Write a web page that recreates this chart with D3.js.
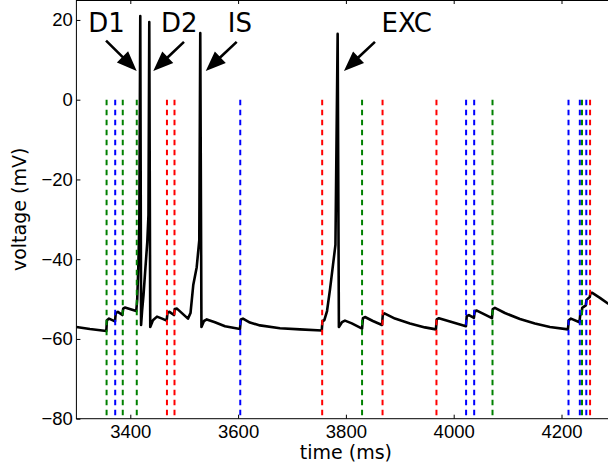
<!DOCTYPE html>
<html>
<head>
<meta charset="utf-8">
<script src="https://cdn.jsdelivr.net/npm/d3@7"></script>
<style>
  body { margin: 0; background: #fff; }
  svg { display: block; font-family: 'DejaVu Sans', sans-serif; }
  .tick text { font-size: 18.5px; fill: #000; }
  .tick line { stroke: #000; stroke-width: 1; }
</style>
</head>
<body>
<div class="voltage-trace"></div>
<script>
// membrane potential (ms, mV)
const timeMs = [
  3300, 3325, 3355.5, 3356.6, 3360.5, 3371.6, 3373, 3377, 3385.3, 3386.8, 3390, 3411,
  3412.8, 3414.8, 3416.7, 3418.5, 3420, 3422, 3424.5, 3427.8, 3431.5, 3433.7, 3435.2, 3437,
  3442, 3449.5, 3459, 3467.5, 3469, 3472.7, 3481, 3482.5, 3486.6, 3507,
  3511.7, 3516.8, 3523.2, 3528, 3529.8, 3532, 3536.7, 3542, 3557, 3575.7, 3603.5,
  3605, 3609, 3622, 3640.6, 3677.7, 3714.8, 3755.2, 3756.5, 3760,
  3765, 3770.4, 3776, 3780.6, 3784.7, 3787, 3792.7, 3798.3, 3811, 3830,
  3831.6, 3835.4, 3850, 3867, 3868.4, 3871.5, 3891, 3918.8, 3946.7, 3967,
  3968.5, 3972.6, 3993, 4022.7, 4024.2, 4028.3, 4037.5, 4039, 4043, 4058, 4071,
  4072.4, 4076.5, 4095, 4122.9, 4150.7, 4178.5, 4212, 4213.4, 4217.5, 4233.3,
  4234.7, 4237.3, 4238.4, 4245, 4246.4, 4252.4, 4253.8, 4256.4, 4271.3, 4286, 4300
];
const voltageMv = [
  -57.0, -57.5, -58.0, -55.3, -54.9, -55.6, -53.5, -53.2, -54.0, -52.4, -52.1, -53.0,
  -50.2, -42.2, -31.4, 21.0, -56.5, -52.7, -49.0, -42.7, -35.7, -28.9, 19.5, -57.0,
  -55.3, -54.4, -54.9, -55.4, -53.4, -53.2, -54.0, -52.5, -52.4, -54.9,
  -53.5, -46.5, -42.0, -35.2, 16.7, -57.0, -55.5, -55.1, -55.8, -56.8, -57.5,
  -55.1, -54.9, -55.9, -56.6, -57.3, -57.6, -57.9, -55.5, -55.3,
  -53.0, -47.7, -41.5, -36.4, 16.5, -57.0, -55.8, -55.4, -56.1, -57.4,
  -54.8, -54.5, -55.5, -56.5, -54.0, -53.6, -54.9, -56.1, -57.1, -57.6,
  -55.1, -54.8, -55.6, -56.8, -54.3, -54.0, -54.7, -53.0, -52.9, -53.9, -54.8,
  -52.5, -52.2, -53.5, -55.0, -56.1, -57.0, -57.6, -55.3, -54.9, -55.8,
  -54.0, -53.7, -52.2, -51.6, -50.2, -49.5, -48.5, -48.4, -49.7, -51.1, -52.2
];

// synaptic input times and which group they belong to
const inputTimes = [
  3356, 3372, 3386, 3412, 3468, 3482, 3604, 3756, 3830, 3868, 3968,
  4023, 4038, 4072, 4213, 4234, 4238, 4246, 4253
];
const inputKinds = [
  'g', 'b', 'g', 'g', 'r', 'r', 'b', 'r', 'g', 'r', 'r',
  'b', 'b', 'g', 'b', 'b', 'g', 'b', 'r'
];

// spike annotations
const spikeLabels = ['D1', 'D2', 'IS', 'EXC'];
const labelTimes = [3322, 3457, 3581, 3866];
const labelVolts = [16.9, 16.9, 16.9, 16.9];
const tailTimes = [3355, 3499.6, 3597.4, 3853.9];
const tailVolts = [14.8, 14.5, 14.5, 14.5];
const tipTimes = [3411.9, 3442.6, 3540, 3796.4];
const tipVolts = [7.2, 7.2, 7.2, 7.2];

const xTicks = [3400, 3600, 3800, 4000, 4200];
const yTicks = [-80, -60, -40, -20, 0, 20];

const width = 608;
const height = 468;
const plot = { left: 76.4, right: 615.4, top: 0, bottom: 418.7 };

const x = d3.scaleLinear().domain([3300, 4300]).range([plot.left, plot.right]);
const y = d3.scaleLinear().domain([-80, 25]).range([plot.bottom, plot.top]);
const kindColor = d3
  .scaleOrdinal()
  .domain(['g', 'b', 'r'])
  .range(['#008000', '#0000ff', '#ff0000']);

const svg = d3
  .select('.voltage-trace')
  .append('svg')
  .attr('width', width)
  .attr('height', height);

svg
  .append('clipPath')
  .attr('id', 'plot-clip')
  .append('rect')
  .attr('x', plot.left)
  .attr('y', plot.top)
  .attr('width', plot.right - plot.left)
  .attr('height', plot.bottom - plot.top);

const trace = d3
  .line()
  .x((d, i) => x(timeMs[i]))
  .y(d => y(d));

svg
  .append('path')
  .datum(voltageMv)
  .attr('clip-path', 'url(#plot-clip)')
  .attr('d', trace)
  .attr('fill', 'none')
  .attr('stroke', '#000')
  .attr('stroke-width', 2.6)
  .attr('stroke-linejoin', 'round');

// dashed input markers, from 0 mV down to the bottom of the axes
svg
  .append('g')
  .attr('clip-path', 'url(#plot-clip)')
  .selectAll('line')
  .data(inputTimes)
  .enter()
  .append('line')
  .attr('x1', d => x(d))
  .attr('x2', d => x(d))
  .attr('y1', y(0))
  .attr('y2', y(-80))
  .attr('stroke', (d, i) => kindColor(inputKinds[i]))
  .attr('stroke-width', 2)
  .attr('stroke-dasharray', '5.5,4.5');

// axes: inward ticks on all four sides, labels on bottom and left
const fmt = d3.format('d');
svg
  .append('g')
  .attr('transform', `translate(0, ${plot.bottom})`)
  .call(d3.axisBottom(x).tickValues(xTicks).tickFormat(fmt).tickSizeInner(-4).tickSizeOuter(0).tickPadding(6))
  .call(g => g.select('.domain').remove());
svg
  .append('g')
  .attr('transform', `translate(0, ${plot.top})`)
  .call(d3.axisTop(x).tickValues(xTicks).tickSizeInner(-4).tickSizeOuter(0).tickFormat(''))
  .call(g => g.select('.domain').remove());
svg
  .append('g')
  .attr('transform', `translate(${plot.left}, 0)`)
  .call(d3.axisLeft(y).tickValues(yTicks).tickSizeInner(-4).tickSizeOuter(0).tickPadding(3.5))
  .call(g => g.select('.domain').remove());
svg
  .append('g')
  .attr('transform', `translate(${plot.right}, 0)`)
  .call(d3.axisRight(y).tickValues(yTicks).tickSizeInner(-4).tickSizeOuter(0).tickFormat(''))
  .call(g => g.select('.domain').remove());
svg.selectAll('.tick text').attr('font-family', null).attr('font-size', null);

svg
  .append('rect')
  .attr('x', plot.left)
  .attr('y', plot.top + 0.5)
  .attr('width', plot.right - plot.left)
  .attr('height', plot.bottom - plot.top - 0.5)
  .attr('fill', 'none')
  .attr('stroke', '#000')
  .attr('stroke-width', 1);

svg
  .append('text')
  .attr('x', (plot.left + plot.right) / 2)
  .attr('y', 459)
  .attr('text-anchor', 'middle')
  .attr('font-size', '19px')
  .text('time (ms)');
svg
  .append('text')
  .attr('transform', `translate(26, ${(plot.top + plot.bottom) / 2}) rotate(-90)`)
  .attr('text-anchor', 'middle')
  .attr('font-size', '19px')
  .text('voltage (mV)');

// annotations with filled arrow heads
const arrowPath = (x0, y0, x1, y1) => {
  const len = Math.hypot(x1 - x0, y1 - y0);
  const ux = (x1 - x0) / len;
  const uy = (y1 - y0) / len;
  const nx = -uy;
  const ny = ux;
  const headLen = 20;
  const headHalf = 8;
  const shaftHalf = 1.3;
  const bx = x1 - ux * headLen;
  const by = y1 - uy * headLen;
  const pts = [
    [x0 + nx * shaftHalf, y0 + ny * shaftHalf],
    [bx + nx * shaftHalf, by + ny * shaftHalf],
    [bx + nx * headHalf, by + ny * headHalf],
    [x1, y1],
    [bx - nx * headHalf, by - ny * headHalf],
    [bx - nx * shaftHalf, by - ny * shaftHalf],
    [x0 - nx * shaftHalf, y0 - ny * shaftHalf]
  ];
  return `M${pts.map(p => p.join(',')).join('L')}Z`;
};

const notes = svg
  .selectAll('.spike-note')
  .data(spikeLabels)
  .enter()
  .append('g')
  .attr('class', 'spike-note');
notes
  .append('path')
  .attr('d', (d, i) => arrowPath(x(tailTimes[i]), y(tailVolts[i]), x(tipTimes[i]), y(tipVolts[i])))
  .attr('fill', '#000');
notes
  .append('text')
  .attr('x', (d, i) => x(labelTimes[i]))
  .attr('y', (d, i) => y(labelVolts[i]))
  .attr('font-size', '26px')
  .text(d => d);
</script>
</body>
</html>
